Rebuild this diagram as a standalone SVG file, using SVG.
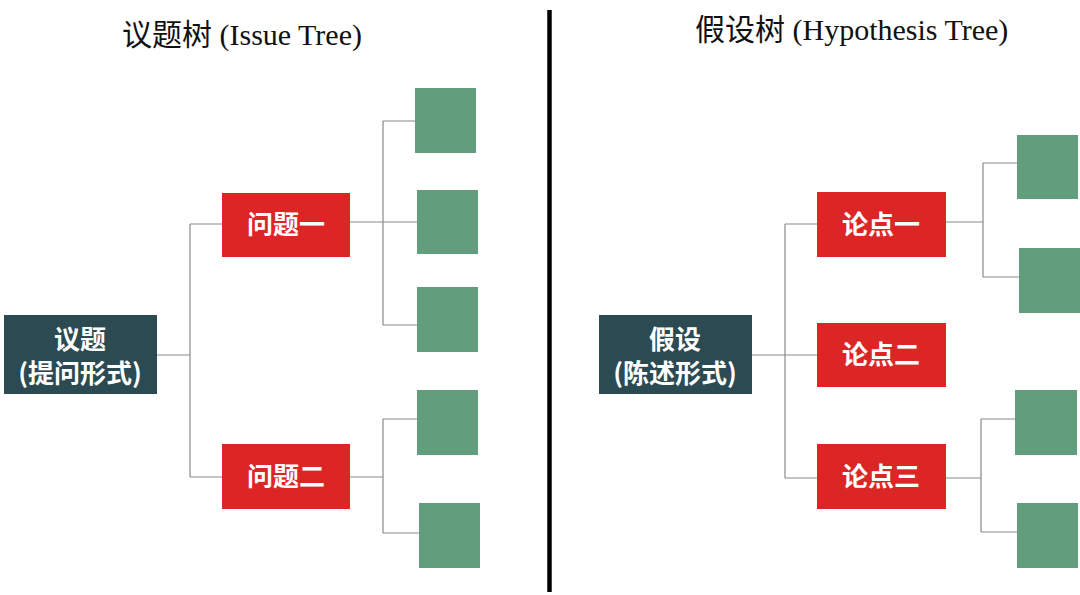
<svg xmlns="http://www.w3.org/2000/svg" width="1080" height="595" viewBox="0 0 1080 595">
<style>
.title{font-family:"Liberation Serif","Noto Sans CJK SC",serif;font-size:30px;fill:#111;}
.root rect{fill:#2c4a52;}
.mid rect{fill:#dc2626;}
.leaf rect{fill:#629d7e;}
.lbl{font-family:"Noto Sans CJK SC","Noto Sans",sans-serif;font-weight:bold;font-size:26px;fill:#fff;text-anchor:middle;}
.conn{fill:none;stroke:#8a8a8a;stroke-width:1.2;}
</style>
<rect width="1080" height="595" fill="#fff"/>
<text class="title" x="122" y="45">议题树 (Issue Tree)</text>
<text class="title" x="695" y="40">假设树 (Hypothesis Tree)</text>
<line x1="549.5" y1="10" x2="549.5" y2="592" stroke="#000" stroke-width="4.5"/>
<g id="connectors" class="conn">
<path d="M157 355H190M190 224V477M190 224H222M190 477H222"/>
<path d="M350 222H383M383 121V325M383 121H415M383 222H417M383 325H417"/>
<path d="M350 477H383M383 419V533M383 419H417M383 533H419"/>
<path d="M752 355H785M785 224V478M785 224H817M785 355H817M785 478H817"/>
<path d="M946 222H983M983 163V277M983 163H1017M983 277H1019"/>
<path d="M946 478H981M981 419V532M981 419H1015M981 532H1017"/>
</g>
<g id="root-left" class="root"><rect x="4" y="315" width="153" height="79"/><text class="lbl" x="80" y="349">议题</text><text class="lbl" x="80" y="383">(提问形式)</text></g>
<g id="q1" class="mid"><rect x="222" y="193" width="128" height="64"/><text class="lbl" x="286" y="234">问题一</text></g>
<g id="q2" class="mid"><rect x="222" y="444" width="128" height="65"/><text class="lbl" x="286" y="486">问题二</text></g>
<g id="l1" class="leaf"><rect x="415" y="88" width="61" height="65"/></g>
<g id="l2" class="leaf"><rect x="417" y="190" width="61" height="64"/></g>
<g id="l3" class="leaf"><rect x="417" y="287" width="61" height="65"/></g>
<g id="l4" class="leaf"><rect x="417" y="390" width="61" height="65"/></g>
<g id="l5" class="leaf"><rect x="419" y="503" width="61" height="65"/></g>
<g id="root-right" class="root"><rect x="599" y="315" width="153" height="79"/><text class="lbl" x="675" y="349">假设</text><text class="lbl" x="675" y="383">(陈述形式)</text></g>
<g id="p1" class="mid"><rect x="817" y="192" width="129" height="65"/><text class="lbl" x="881" y="234">论点一</text></g>
<g id="p2" class="mid"><rect x="817" y="323" width="129" height="64"/><text class="lbl" x="881" y="364">论点二</text></g>
<g id="p3" class="mid"><rect x="817" y="444" width="129" height="65"/><text class="lbl" x="881" y="486">论点三</text></g>
<g id="r1" class="leaf"><rect x="1017" y="135" width="61" height="64"/></g>
<g id="r2" class="leaf"><rect x="1019" y="248" width="61" height="65"/></g>
<g id="r3" class="leaf"><rect x="1015" y="390" width="62" height="65"/></g>
<g id="r4" class="leaf"><rect x="1017" y="503" width="61" height="65"/></g>
</svg>
